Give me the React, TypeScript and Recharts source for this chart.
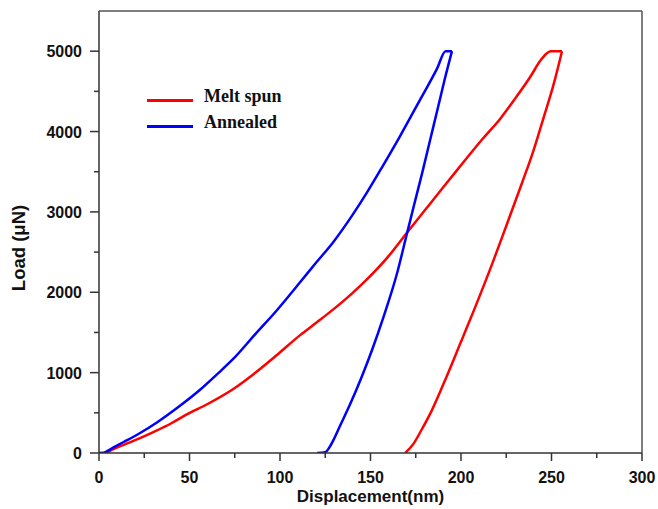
import React from 'react';
import { LineChart, Line, XAxis, YAxis, ReferenceLine, Legend, Label } from 'recharts';

// Nanoindentation load-displacement curves, loading and unloading branches
const MELT_LOAD_X = [
  0, 3, 8, 14, 19, 30, 40, 48.5, 60, 74.4, 85, 98.3, 111.3, 120, 129.6, 140, 148, 160, 169.8, 180,
  190.4, 198.7, 205, 212, 221.7, 230, 238.3, 243.8, 247, 249.4, 255.8,
];
const MELT_LOAD_Y = [
  0, 0, 50, 105, 150, 260, 370, 480, 610, 800, 975, 1220, 1470, 1620, 1790, 1990, 2160, 2450, 2732, 3020,
  3313, 3545, 3720, 3910, 4160, 4413, 4682, 4880, 4965, 5000, 5000,
];
const MELT_UNLOAD_X = [169.2, 173.8, 178, 183, 190.4, 199.6, 207.9, 218, 225.4, 233.7, 240, 245.6, 251.2, 255.8];
const MELT_UNLOAD_Y = [0, 117, 280, 490, 864, 1362, 1818, 2400, 2850, 3360, 3760, 4170, 4590, 5000];

const ANNEAL_LOAD_X = [
  0, 2, 8, 13.6, 22, 32, 44, 56, 65, 74.4, 86, 98.3, 111.3, 120, 129.6, 140, 148, 157, 166.5, 177.5,
  186.7, 191.5, 195,
];
const ANNEAL_LOAD_Y = [
  0, 0, 70, 137, 240, 380, 575, 790, 975, 1176, 1470, 1777, 2130, 2370, 2630, 2960, 3240, 3580, 3950, 4400,
  4780, 5000, 5000,
];
const ANNEAL_UNLOAD_X = [120.5, 125, 127, 129.5, 133, 138.9, 145, 150.8, 157.2, 164.6, 169.8, 174, 178.5, 183, 187.6, 191, 195];
const ANNEAL_UNLOAD_Y = [0, 10, 60, 160, 330, 615, 940, 1279, 1694, 2230, 2700, 3080, 3480, 3900, 4330, 4650, 5000];

const X_TICKS = [0, 25, 50, 75, 100, 125, 150, 175, 200, 225, 250, 275, 300];
const Y_TICKS = [0, 500, 1000, 1500, 2000, 2500, 3000, 3500, 4000, 4500, 5000];

const SERIES = [
  { name: 'Melt spun', color: '#ff0000' },
  { name: 'Annealed', color: '#0000ff' },
];

const AXIS = '#333';
const TEXT = '#111';
const SANS = '"Liberation Sans", Arial, sans-serif';
const SERIF = '"Liberation Serif", "Times New Roman", serif';

const toPoints = (xs: number[], ys: number[]) => xs.map((x, i) => ({ x, y: ys[i] }));

const meltLoad = toPoints(MELT_LOAD_X, MELT_LOAD_Y);
const meltUnload = toPoints(MELT_UNLOAD_X, MELT_UNLOAD_Y);
const annealLoad = toPoints(ANNEAL_LOAD_X, ANNEAL_LOAD_Y);
const annealUnload = toPoints(ANNEAL_UNLOAD_X, ANNEAL_UNLOAD_Y);

function XTick({ x, y, payload }: any) {
  const major = payload.value % 50 === 0;
  return (
    <g>
      <line x1={x} y1={y} x2={x} y2={y + (major ? 8 : 5)} stroke={AXIS} strokeWidth={1.5} />
      {major && (
        <text x={x} y={y + 30} textAnchor="middle" fill={TEXT} fontFamily={SANS} fontWeight="bold" fontSize={16}>
          {payload.value}
        </text>
      )}
    </g>
  );
}

function YTick({ x, y, payload }: any) {
  const major = payload.value % 1000 === 0;
  return (
    <g>
      <line x1={x} y1={y} x2={x - (major ? 9 : 5)} y2={y} stroke={AXIS} strokeWidth={1.5} />
      {major && (
        <text x={x - 17} y={y + 6} textAnchor="end" fill={TEXT} fontFamily={SANS} fontWeight="bold" fontSize={16}>
          {payload.value}
        </text>
      )}
    </g>
  );
}

function YLabel({ viewBox }: any) {
  const cx = 25;
  const cy = viewBox.y + viewBox.height / 2 + 16;
  return (
    <text
      x={cx}
      y={cy}
      transform={`rotate(-90 ${cx} ${cy})`}
      textAnchor="middle"
      fill={TEXT}
      fontFamily={SANS}
      fontWeight="bold"
      fontSize={18.5}
    >
      Load (μN)
    </text>
  );
}

// legend drawn in the original order (recharts sorts payload by name)
function LegendBox() {
  return (
    <div style={{ fontFamily: SERIF, fontWeight: 'bold', fontSize: 18, color: TEXT }}>
      {SERIES.map((s) => (
        <div key={s.name} style={{ display: 'flex', alignItems: 'center', height: 26 }}>
          <span style={{ display: 'inline-block', width: 46, height: 3, background: s.color, marginRight: 11 }} />
          <span style={{ position: 'relative', top: -4, whiteSpace: 'nowrap' }}>{s.name}</span>
        </div>
      ))}
    </div>
  );
}

export default function App() {
  return (
    <div style={{ position: 'absolute', left: 0, top: 0, width: 658, height: 509, background: '#fff' }}>
      <LineChart width={658} height={509} margin={{ top: 11, right: 16, bottom: 0, left: 0 }}>
        <XAxis
          type="number"
          dataKey="x"
          domain={[0, 300]}
          ticks={X_TICKS}
          interval={0}
          tickSize={0}
          tickMargin={0}
          tick={<XTick />}
          axisLine={{ stroke: AXIS, strokeWidth: 1.5 }}
          height={56}
          allowDataOverflow
        >
          <Label
            value="Displacement(nm)"
            position="insideBottom"
            offset={7}
            fill={TEXT}
            fontFamily={SANS}
            fontWeight="bold"
            fontSize={17}
          />
        </XAxis>
        <YAxis
          type="number"
          dataKey="y"
          domain={[0, 5500]}
          ticks={Y_TICKS}
          interval={0}
          tickSize={0}
          tickMargin={0}
          tick={<YTick />}
          axisLine={{ stroke: AXIS, strokeWidth: 1.5 }}
          width={99}
          allowDataOverflow
        >
          <Label content={<YLabel />} />
        </YAxis>
        <ReferenceLine y={5500} stroke="#555" strokeWidth={1.5} />
        <ReferenceLine x={300} stroke="#555" strokeWidth={1.5} />
        <Legend
          layout="vertical"
          align="center"
          verticalAlign="middle"
          content={<LegendBox />}
          wrapperStyle={{ top: 87, left: 147, width: 200 }}
        />
        <Line data={meltLoad} dataKey="y" name="Melt spun" type="monotone" stroke={SERIES[0].color}
          strokeWidth={2.5} dot={false} isAnimationActive={false} />
        <Line data={meltUnload} dataKey="y" name="Melt spun unload" type="monotone" stroke={SERIES[0].color}
          strokeWidth={2.5} dot={false} legendType="none" isAnimationActive={false} />
        <Line data={annealLoad} dataKey="y" name="Annealed" type="monotone" stroke={SERIES[1].color}
          strokeWidth={2.5} dot={false} isAnimationActive={false} />
        <Line data={annealUnload} dataKey="y" name="Annealed unload" type="monotone" stroke={SERIES[1].color}
          strokeWidth={2.5} dot={false} legendType="none" isAnimationActive={false} />
      </LineChart>
    </div>
  );
}
